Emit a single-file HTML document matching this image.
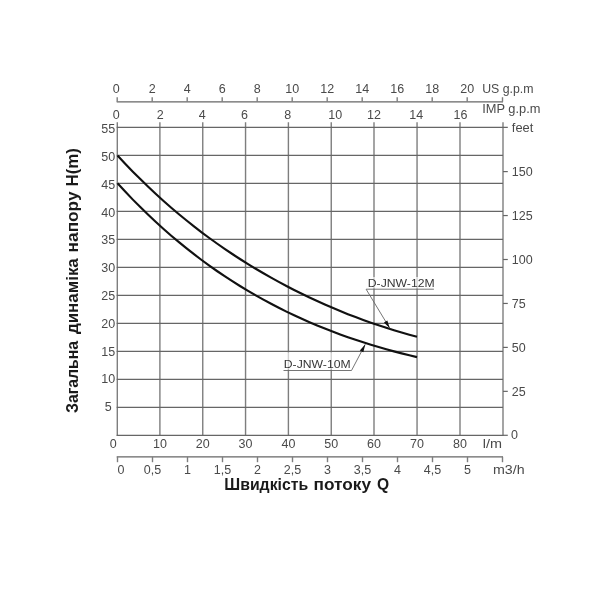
<!DOCTYPE html>
<html><head><meta charset="utf-8"><style>
html,body{margin:0;padding:0;background:#fff;width:600px;height:600px;overflow:hidden;}
svg{display:block;will-change:transform;}
</style></head><body>
<svg width="600" height="600" viewBox="0 0 600 600">
<line x1="117.30" y1="122.30" x2="117.30" y2="435.90" stroke="#7e7e7e" stroke-width="1.40"/>
<line x1="159.90" y1="122.30" x2="159.90" y2="435.90" stroke="#7e7e7e" stroke-width="1.40"/>
<line x1="202.75" y1="122.30" x2="202.75" y2="435.90" stroke="#7e7e7e" stroke-width="1.40"/>
<line x1="245.55" y1="122.30" x2="245.55" y2="435.90" stroke="#7e7e7e" stroke-width="1.40"/>
<line x1="288.40" y1="122.30" x2="288.40" y2="435.90" stroke="#7e7e7e" stroke-width="1.40"/>
<line x1="331.25" y1="122.30" x2="331.25" y2="435.90" stroke="#7e7e7e" stroke-width="1.40"/>
<line x1="374.00" y1="122.30" x2="374.00" y2="435.90" stroke="#7e7e7e" stroke-width="1.40"/>
<line x1="417.05" y1="122.30" x2="417.05" y2="435.90" stroke="#7e7e7e" stroke-width="1.40"/>
<line x1="460.00" y1="122.30" x2="460.00" y2="435.90" stroke="#7e7e7e" stroke-width="1.40"/>
<line x1="503.00" y1="122.30" x2="503.00" y2="435.90" stroke="#7e7e7e" stroke-width="1.40"/>
<line x1="116.70" y1="435.30" x2="503.00" y2="435.30" stroke="#666666" stroke-width="1.20"/>
<line x1="116.70" y1="407.31" x2="503.00" y2="407.31" stroke="#666666" stroke-width="1.20"/>
<line x1="116.70" y1="379.32" x2="503.00" y2="379.32" stroke="#666666" stroke-width="1.20"/>
<line x1="116.70" y1="351.33" x2="503.00" y2="351.33" stroke="#666666" stroke-width="1.20"/>
<line x1="116.70" y1="323.34" x2="503.00" y2="323.34" stroke="#666666" stroke-width="1.20"/>
<line x1="116.70" y1="295.35" x2="503.00" y2="295.35" stroke="#666666" stroke-width="1.20"/>
<line x1="116.70" y1="267.36" x2="503.00" y2="267.36" stroke="#666666" stroke-width="1.20"/>
<line x1="116.70" y1="239.37" x2="503.00" y2="239.37" stroke="#666666" stroke-width="1.20"/>
<line x1="116.70" y1="211.38" x2="503.00" y2="211.38" stroke="#666666" stroke-width="1.20"/>
<line x1="116.70" y1="183.39" x2="503.00" y2="183.39" stroke="#666666" stroke-width="1.20"/>
<line x1="116.70" y1="155.40" x2="503.00" y2="155.40" stroke="#666666" stroke-width="1.20"/>
<line x1="116.70" y1="127.41" x2="507.80" y2="127.41" stroke="#666666" stroke-width="1.20"/>
<line x1="503.00" y1="435.30" x2="507.80" y2="435.30" stroke="#666666" stroke-width="1.20"/>
<line x1="503.00" y1="391.35" x2="507.80" y2="391.35" stroke="#666666" stroke-width="1.20"/>
<line x1="503.00" y1="347.40" x2="507.80" y2="347.40" stroke="#666666" stroke-width="1.20"/>
<line x1="503.00" y1="303.45" x2="507.80" y2="303.45" stroke="#666666" stroke-width="1.20"/>
<line x1="503.00" y1="259.50" x2="507.80" y2="259.50" stroke="#666666" stroke-width="1.20"/>
<line x1="503.00" y1="215.55" x2="507.80" y2="215.55" stroke="#666666" stroke-width="1.20"/>
<line x1="503.00" y1="171.60" x2="507.80" y2="171.60" stroke="#666666" stroke-width="1.20"/>
<line x1="116.70" y1="101.80" x2="503.00" y2="101.80" stroke="#666666" stroke-width="1.20"/>
<line x1="117.20" y1="97.20" x2="117.20" y2="101.80" stroke="#7e7e7e" stroke-width="1.40"/>
<line x1="152.20" y1="97.20" x2="152.20" y2="101.80" stroke="#7e7e7e" stroke-width="1.40"/>
<line x1="187.20" y1="97.20" x2="187.20" y2="101.80" stroke="#7e7e7e" stroke-width="1.40"/>
<line x1="222.20" y1="97.20" x2="222.20" y2="101.80" stroke="#7e7e7e" stroke-width="1.40"/>
<line x1="257.20" y1="97.20" x2="257.20" y2="101.80" stroke="#7e7e7e" stroke-width="1.40"/>
<line x1="292.20" y1="97.20" x2="292.20" y2="101.80" stroke="#7e7e7e" stroke-width="1.40"/>
<line x1="327.20" y1="97.20" x2="327.20" y2="101.80" stroke="#7e7e7e" stroke-width="1.40"/>
<line x1="362.20" y1="97.20" x2="362.20" y2="101.80" stroke="#7e7e7e" stroke-width="1.40"/>
<line x1="397.20" y1="97.20" x2="397.20" y2="101.80" stroke="#7e7e7e" stroke-width="1.40"/>
<line x1="432.20" y1="97.20" x2="432.20" y2="101.80" stroke="#7e7e7e" stroke-width="1.40"/>
<line x1="467.20" y1="97.20" x2="467.20" y2="101.80" stroke="#7e7e7e" stroke-width="1.40"/>
<line x1="502.50" y1="97.20" x2="502.50" y2="101.80" stroke="#7e7e7e" stroke-width="1.40"/>
<line x1="116.70" y1="456.80" x2="503.00" y2="456.80" stroke="#666666" stroke-width="1.20"/>
<line x1="117.50" y1="456.80" x2="117.50" y2="462.20" stroke="#7e7e7e" stroke-width="1.40"/>
<line x1="152.50" y1="456.80" x2="152.50" y2="462.20" stroke="#7e7e7e" stroke-width="1.40"/>
<line x1="187.50" y1="456.80" x2="187.50" y2="462.20" stroke="#7e7e7e" stroke-width="1.40"/>
<line x1="222.50" y1="456.80" x2="222.50" y2="462.20" stroke="#7e7e7e" stroke-width="1.40"/>
<line x1="257.50" y1="456.80" x2="257.50" y2="462.20" stroke="#7e7e7e" stroke-width="1.40"/>
<line x1="292.50" y1="456.80" x2="292.50" y2="462.20" stroke="#7e7e7e" stroke-width="1.40"/>
<line x1="327.50" y1="456.80" x2="327.50" y2="462.20" stroke="#7e7e7e" stroke-width="1.40"/>
<line x1="362.50" y1="456.80" x2="362.50" y2="462.20" stroke="#7e7e7e" stroke-width="1.40"/>
<line x1="397.50" y1="456.80" x2="397.50" y2="462.20" stroke="#7e7e7e" stroke-width="1.40"/>
<line x1="432.50" y1="456.80" x2="432.50" y2="462.20" stroke="#7e7e7e" stroke-width="1.40"/>
<line x1="467.50" y1="456.80" x2="467.50" y2="462.20" stroke="#7e7e7e" stroke-width="1.40"/>
<line x1="502.50" y1="456.80" x2="502.50" y2="462.20" stroke="#7e7e7e" stroke-width="1.40"/>
<path d="M117.50,155.43 L125.18,163.68 L132.86,171.65 L140.54,179.36 L148.22,186.81 L155.90,194.02 L163.58,200.98 L171.26,207.72 L178.94,214.24 L186.62,220.54 L194.29,226.64 L201.97,232.53 L209.65,238.24 L217.33,243.75 L225.01,249.09 L232.69,254.26 L240.37,259.26 L248.05,264.09 L255.73,268.77 L263.41,273.30 L271.09,277.67 L278.77,281.91 L286.45,286.01 L294.13,289.97 L301.81,293.79 L309.49,297.49 L317.17,301.06 L324.85,304.51 L332.53,307.84 L340.21,311.05 L347.88,314.13 L355.56,317.11 L363.24,319.97 L370.92,322.71 L378.60,325.34 L386.28,327.85 L393.96,330.25 L401.64,332.54 L409.32,334.71 L417.00,336.77" fill="none" stroke="#111" stroke-width="2.15"/>
<path d="M117.50,183.31 L125.18,191.60 L132.86,199.62 L140.54,207.35 L148.22,214.82 L155.90,222.03 L163.58,228.99 L171.26,235.70 L178.94,242.18 L186.62,248.43 L194.29,254.45 L201.97,260.26 L209.65,265.85 L217.33,271.25 L225.01,276.44 L232.69,281.44 L240.37,286.26 L248.05,290.90 L255.73,295.37 L263.41,299.66 L271.09,303.79 L278.77,307.77 L286.45,311.59 L294.13,315.26 L301.81,318.79 L309.49,322.18 L317.17,325.43 L324.85,328.56 L332.53,331.55 L340.21,334.43 L347.88,337.18 L355.56,339.82 L363.24,342.34 L370.92,344.76 L378.60,347.07 L386.28,349.28 L393.96,351.39 L401.64,353.39 L409.32,355.31 L417.00,357.13" fill="none" stroke="#111" stroke-width="2.15"/>
<rect x="366" y="277" width="69" height="11.5" fill="#fff" fill-opacity="0.65"/>
<rect x="282" y="352.3" width="69" height="17.4" fill="#fff" fill-opacity="0.65"/>
<polyline points="433.9,289.2 366.1,289.2 389.8,328.3" fill="none" stroke="#666" stroke-width="0.9"/>
<polyline points="283.5,370.5 351.5,370.5 365.3,344.3" fill="none" stroke="#666" stroke-width="0.9"/>
<polygon points="389.80,328.30 383.94,322.50 387.36,320.42" fill="#111"/>
<polygon points="365.30,344.30 363.34,352.31 359.80,350.45" fill="#111"/>
<text x="116.20" y="93.00" font-size="12.50" text-anchor="middle" font-family="Liberation Sans, sans-serif" fill="#4a4a4a" >0</text>
<text x="152.20" y="93.00" font-size="12.50" text-anchor="middle" font-family="Liberation Sans, sans-serif" fill="#4a4a4a" >2</text>
<text x="187.20" y="93.00" font-size="12.50" text-anchor="middle" font-family="Liberation Sans, sans-serif" fill="#4a4a4a" >4</text>
<text x="222.20" y="93.00" font-size="12.50" text-anchor="middle" font-family="Liberation Sans, sans-serif" fill="#4a4a4a" >6</text>
<text x="257.20" y="93.00" font-size="12.50" text-anchor="middle" font-family="Liberation Sans, sans-serif" fill="#4a4a4a" >8</text>
<text x="292.20" y="93.00" font-size="12.50" text-anchor="middle" font-family="Liberation Sans, sans-serif" fill="#4a4a4a" >10</text>
<text x="327.20" y="93.00" font-size="12.50" text-anchor="middle" font-family="Liberation Sans, sans-serif" fill="#4a4a4a" >12</text>
<text x="362.20" y="93.00" font-size="12.50" text-anchor="middle" font-family="Liberation Sans, sans-serif" fill="#4a4a4a" >14</text>
<text x="397.20" y="93.00" font-size="12.50" text-anchor="middle" font-family="Liberation Sans, sans-serif" fill="#4a4a4a" >16</text>
<text x="432.20" y="93.00" font-size="12.50" text-anchor="middle" font-family="Liberation Sans, sans-serif" fill="#4a4a4a" >18</text>
<text x="467.20" y="93.00" font-size="12.50" text-anchor="middle" font-family="Liberation Sans, sans-serif" fill="#4a4a4a" >20</text>
<text x="482.20" y="93.20" font-size="12.50" text-anchor="start" font-family="Liberation Sans, sans-serif" fill="#4a4a4a" textLength="51.30" lengthAdjust="spacingAndGlyphs" >US g.p.m</text>
<text x="116.30" y="119.00" font-size="12.50" text-anchor="middle" font-family="Liberation Sans, sans-serif" fill="#4a4a4a" >0</text>
<text x="160.35" y="119.00" font-size="12.50" text-anchor="middle" font-family="Liberation Sans, sans-serif" fill="#4a4a4a" >2</text>
<text x="202.20" y="119.00" font-size="12.50" text-anchor="middle" font-family="Liberation Sans, sans-serif" fill="#4a4a4a" >4</text>
<text x="244.50" y="119.00" font-size="12.50" text-anchor="middle" font-family="Liberation Sans, sans-serif" fill="#4a4a4a" >6</text>
<text x="287.80" y="119.00" font-size="12.50" text-anchor="middle" font-family="Liberation Sans, sans-serif" fill="#4a4a4a" >8</text>
<text x="335.25" y="119.00" font-size="12.50" text-anchor="middle" font-family="Liberation Sans, sans-serif" fill="#4a4a4a" >10</text>
<text x="373.90" y="119.00" font-size="12.50" text-anchor="middle" font-family="Liberation Sans, sans-serif" fill="#4a4a4a" >12</text>
<text x="416.20" y="119.00" font-size="12.50" text-anchor="middle" font-family="Liberation Sans, sans-serif" fill="#4a4a4a" >14</text>
<text x="460.50" y="119.00" font-size="12.50" text-anchor="middle" font-family="Liberation Sans, sans-serif" fill="#4a4a4a" >16</text>
<text x="482.20" y="113.20" font-size="12.50" text-anchor="start" font-family="Liberation Sans, sans-serif" fill="#4a4a4a" textLength="58.30" lengthAdjust="spacingAndGlyphs" >IMP g.p.m</text>
<text x="511.80" y="131.70" font-size="12.50" text-anchor="start" font-family="Liberation Sans, sans-serif" fill="#4a4a4a" textLength="21.50" lengthAdjust="spacingAndGlyphs" >feet</text>
<text x="108.20" y="411.30" font-size="12.50" text-anchor="middle" font-family="Liberation Sans, sans-serif" fill="#4a4a4a" >5</text>
<text x="108.20" y="383.49" font-size="12.50" text-anchor="middle" font-family="Liberation Sans, sans-serif" fill="#4a4a4a" >10</text>
<text x="108.20" y="355.68" font-size="12.50" text-anchor="middle" font-family="Liberation Sans, sans-serif" fill="#4a4a4a" >15</text>
<text x="108.20" y="327.87" font-size="12.50" text-anchor="middle" font-family="Liberation Sans, sans-serif" fill="#4a4a4a" >20</text>
<text x="108.20" y="300.06" font-size="12.50" text-anchor="middle" font-family="Liberation Sans, sans-serif" fill="#4a4a4a" >25</text>
<text x="108.20" y="272.25" font-size="12.50" text-anchor="middle" font-family="Liberation Sans, sans-serif" fill="#4a4a4a" >30</text>
<text x="108.20" y="244.44" font-size="12.50" text-anchor="middle" font-family="Liberation Sans, sans-serif" fill="#4a4a4a" >35</text>
<text x="108.20" y="216.63" font-size="12.50" text-anchor="middle" font-family="Liberation Sans, sans-serif" fill="#4a4a4a" >40</text>
<text x="108.20" y="188.82" font-size="12.50" text-anchor="middle" font-family="Liberation Sans, sans-serif" fill="#4a4a4a" >45</text>
<text x="108.20" y="161.01" font-size="12.50" text-anchor="middle" font-family="Liberation Sans, sans-serif" fill="#4a4a4a" >50</text>
<text x="108.20" y="133.20" font-size="12.50" text-anchor="middle" font-family="Liberation Sans, sans-serif" fill="#4a4a4a" >55</text>
<text x="511.00" y="439.10" font-size="12.50" text-anchor="start" font-family="Liberation Sans, sans-serif" fill="#4a4a4a" >0</text>
<text x="511.80" y="396.05" font-size="12.50" text-anchor="start" font-family="Liberation Sans, sans-serif" fill="#4a4a4a" >25</text>
<text x="511.80" y="352.10" font-size="12.50" text-anchor="start" font-family="Liberation Sans, sans-serif" fill="#4a4a4a" >50</text>
<text x="511.80" y="308.15" font-size="12.50" text-anchor="start" font-family="Liberation Sans, sans-serif" fill="#4a4a4a" >75</text>
<text x="511.80" y="264.20" font-size="12.50" text-anchor="start" font-family="Liberation Sans, sans-serif" fill="#4a4a4a" >100</text>
<text x="511.80" y="220.25" font-size="12.50" text-anchor="start" font-family="Liberation Sans, sans-serif" fill="#4a4a4a" >125</text>
<text x="511.80" y="176.30" font-size="12.50" text-anchor="start" font-family="Liberation Sans, sans-serif" fill="#4a4a4a" >150</text>
<text x="113.20" y="447.70" font-size="12.50" text-anchor="middle" font-family="Liberation Sans, sans-serif" fill="#4a4a4a" >0</text>
<text x="159.90" y="447.70" font-size="12.50" text-anchor="middle" font-family="Liberation Sans, sans-serif" fill="#4a4a4a" >10</text>
<text x="202.75" y="447.70" font-size="12.50" text-anchor="middle" font-family="Liberation Sans, sans-serif" fill="#4a4a4a" >20</text>
<text x="245.55" y="447.70" font-size="12.50" text-anchor="middle" font-family="Liberation Sans, sans-serif" fill="#4a4a4a" >30</text>
<text x="288.40" y="447.70" font-size="12.50" text-anchor="middle" font-family="Liberation Sans, sans-serif" fill="#4a4a4a" >40</text>
<text x="331.25" y="447.70" font-size="12.50" text-anchor="middle" font-family="Liberation Sans, sans-serif" fill="#4a4a4a" >50</text>
<text x="374.00" y="447.70" font-size="12.50" text-anchor="middle" font-family="Liberation Sans, sans-serif" fill="#4a4a4a" >60</text>
<text x="417.05" y="447.70" font-size="12.50" text-anchor="middle" font-family="Liberation Sans, sans-serif" fill="#4a4a4a" >70</text>
<text x="460.00" y="447.70" font-size="12.50" text-anchor="middle" font-family="Liberation Sans, sans-serif" fill="#4a4a4a" >80</text>
<text x="482.70" y="448.10" font-size="12.50" text-anchor="start" font-family="Liberation Sans, sans-serif" fill="#4a4a4a" textLength="19.20" lengthAdjust="spacingAndGlyphs" >l/m</text>
<text x="121.00" y="474.20" font-size="12.50" text-anchor="middle" font-family="Liberation Sans, sans-serif" fill="#4a4a4a" >0</text>
<text x="152.50" y="474.20" font-size="12.50" text-anchor="middle" font-family="Liberation Sans, sans-serif" fill="#4a4a4a" >0,5</text>
<text x="187.50" y="474.20" font-size="12.50" text-anchor="middle" font-family="Liberation Sans, sans-serif" fill="#4a4a4a" >1</text>
<text x="222.50" y="474.20" font-size="12.50" text-anchor="middle" font-family="Liberation Sans, sans-serif" fill="#4a4a4a" >1,5</text>
<text x="257.50" y="474.20" font-size="12.50" text-anchor="middle" font-family="Liberation Sans, sans-serif" fill="#4a4a4a" >2</text>
<text x="292.50" y="474.20" font-size="12.50" text-anchor="middle" font-family="Liberation Sans, sans-serif" fill="#4a4a4a" >2,5</text>
<text x="327.50" y="474.20" font-size="12.50" text-anchor="middle" font-family="Liberation Sans, sans-serif" fill="#4a4a4a" >3</text>
<text x="362.50" y="474.20" font-size="12.50" text-anchor="middle" font-family="Liberation Sans, sans-serif" fill="#4a4a4a" >3,5</text>
<text x="397.50" y="474.20" font-size="12.50" text-anchor="middle" font-family="Liberation Sans, sans-serif" fill="#4a4a4a" >4</text>
<text x="432.50" y="474.20" font-size="12.50" text-anchor="middle" font-family="Liberation Sans, sans-serif" fill="#4a4a4a" >4,5</text>
<text x="467.50" y="474.20" font-size="12.50" text-anchor="middle" font-family="Liberation Sans, sans-serif" fill="#4a4a4a" >5</text>
<text x="493.00" y="474.30" font-size="12.50" text-anchor="start" font-family="Liberation Sans, sans-serif" fill="#4a4a4a" textLength="31.60" lengthAdjust="spacingAndGlyphs" >m3/h</text>
<text x="367.75" y="286.75" font-size="11.30" text-anchor="start" font-family="Liberation Sans, sans-serif" fill="#383838" textLength="66.90" lengthAdjust="spacingAndGlyphs" >D-JNW-12M</text>
<text x="283.75" y="368.25" font-size="11.30" text-anchor="start" font-family="Liberation Sans, sans-serif" fill="#383838" textLength="66.90" lengthAdjust="spacingAndGlyphs" >D-JNW-10M</text>
<text x="224.31" y="490" font-size="16" font-weight="bold" font-family="Liberation Sans, sans-serif" fill="#1a1a1a" textLength="83.92" lengthAdjust="spacingAndGlyphs">Швидкість</text>
<text x="313.62" y="490" font-size="16" font-weight="bold" font-family="Liberation Sans, sans-serif" fill="#1a1a1a" textLength="57.44" lengthAdjust="spacingAndGlyphs">потоку</text>
<text x="377.00" y="490" font-size="16" font-weight="bold" font-family="Liberation Sans, sans-serif" fill="#1a1a1a" textLength="12.14" lengthAdjust="spacingAndGlyphs">Q</text>
<text transform="translate(78,413.00) rotate(-90)" x="0" y="0" font-size="16" font-weight="bold" font-family="Liberation Sans, sans-serif" fill="#1a1a1a" textLength="72.06" lengthAdjust="spacingAndGlyphs">Загальна</text>
<text transform="translate(78,334.00) rotate(-90)" x="0" y="0" font-size="16" font-weight="bold" font-family="Liberation Sans, sans-serif" fill="#1a1a1a" textLength="75.74" lengthAdjust="spacingAndGlyphs">динаміка</text>
<text transform="translate(78,252.38) rotate(-90)" x="0" y="0" font-size="16" font-weight="bold" font-family="Liberation Sans, sans-serif" fill="#1a1a1a" textLength="60.88" lengthAdjust="spacingAndGlyphs">напору</text>
<text transform="translate(78,186.56) rotate(-90)" x="0" y="0" font-size="16" font-weight="bold" font-family="Liberation Sans, sans-serif" fill="#1a1a1a" textLength="38.52" lengthAdjust="spacingAndGlyphs">H(m)</text>
</svg>
</body></html>
